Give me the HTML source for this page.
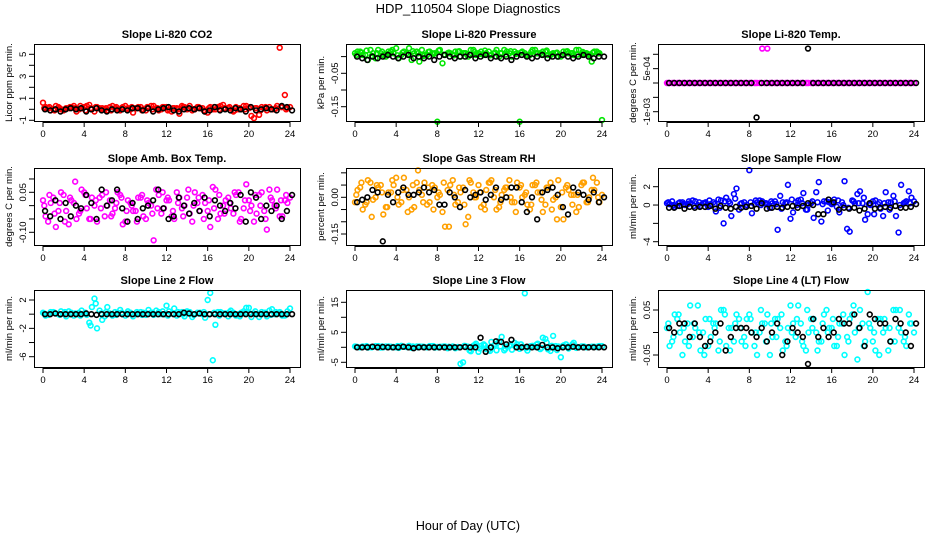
<!DOCTYPE html>
<html><head><meta charset="utf-8"><style>
html,body{margin:0;padding:0;background:#fff;}
svg{display:block;font-family:"Liberation Sans",sans-serif;}
</style></head><body>
<svg id="chart" width="936" height="540" viewBox="0 0 936 540">
<text x="468" y="13" text-anchor="middle" font-size="13">HDP_110504  Slope Diagnostics</text>
<text x="468" y="530" text-anchor="middle" font-size="12.5">Hour of Day (UTC)</text>
</svg>
<script>
// shared hour categories
const hoursA=[0,0.5,1,1.5,2,2.5,3,3.5,4,4.5,5,5.5,6,6.5,7,7.5,8,8.5,9,9.5,10,10.5,11,11.5,12,12.5,13,13.5,14,14.5,15,15.5,16,16.5,17,17.5,18,18.5,19,19.5,20,20.5,21,21.5,22,22.5,23,23.5,24];
const hoursB=[0.25,0.75,1.25,1.75,2.25,2.75,3.25,3.75,4.25,4.75,5.25,5.75,6.25,6.75,7.25,7.75,8.25,8.75,9.25,9.75,10.25,10.75,11.25,11.75,12.25,12.75,13.25,13.75,14.25,14.75,15.25,15.75,16.25,16.75,17.25,17.75,18.25,18.75,19.25,19.75,20.25,20.75,21.25,21.75,22.25,22.75,23.25,23.75];
const hoursC=[0.125,0.625,1.125,1.625,2.125,2.625,3.125,3.625,4.125,4.625,5.125,5.625,6.125,6.625,7.125,7.625,8.125,8.625,9.125,9.625,10.125,10.625,11.125,11.625,12.125,12.625,13.125,13.625,14.125,14.625,15.125,15.625,16.125,16.625,17.125,17.625,18.125,18.625,19.125,19.625,20.125,20.625,21.125,21.625,22.125,22.625,23.125,23.625];
const xTicks=[0,4,8,12,16,20,24];

// Panel 1: CO2
const co2A=[0.6,0.1,0.0,0.2,-0.1,0.1,0.3,0.0,0.2,0.4,-0.2,0.1,0.0,0.2,0.1,-0.1,0.3,0.0,0.1,0.2,-0.1,0.3,0.1,0.0,0.2,-0.2,0.1,0.3,0.0,-0.1,0.2,0.1,-0.3,0.0,0.2,0.4,0.1,-0.2,0.0,0.3,0.1,-0.8,-0.5,0.1,0.2,0.0,5.6,1.3,0.2];
const co2B=[0.2,-0.1,0.3,0.0,0.1,0.2,-0.2,0.1,0.3,0.0,0.2,0.1,-0.1,0.3,0.0,0.2,0.1,-0.3,0.2,0.0,0.1,0.3,-0.1,0.2,0.0,0.1,-0.4,0.2,0.3,0.0,0.1,-0.2,0.2,0.0,0.3,0.1,-0.1,0.2,0.0,0.3,-0.6,0.1,0.2,-0.1,0.0,0.3,0.2,0.1];
const co2C=[0.1,0.2,-0.1,0.1,0.0,0.2,0.1,0.3,-0.1,0.1,0.2,0.0,0.1,-0.1,0.2,0.1,0.0,0.2,0.1,-0.1,0.2,0.0,0.1,0.2,-0.1,0.1,0.0,0.2,0.1,0.0,0.2,-0.1,0.1,0.2,0.0,0.1,0.2,-0.1,0.1,0.0,0.2,0.1,-0.1,0.2,0.0,0.1,0.2,0.0];
const co2K=[0.0,-0.1,0.0,-0.2,0.0,0.1,0.0,0.1,-0.2,0.0,0.1,-0.1,-0.2,0.0,-0.1,0.0,-0.1,0.1,0.1,-0.1,0.1,-0.2,0.0,0.1,0.2,-0.1,-0.2,0.0,0.1,0.0,0.1,-0.2,-0.1,0.2,-0.1,0.0,-0.1,0.1,0.0,-0.2,0.2,-0.1,0.0,0.1,0.0,-0.1,0.3,0.2,-0.1];
// Panel 2: Pressure
const presA=[0.010,0.015,0.005,0.020,-0.005,0.010,0.000,0.015,0.025,0.005,0.010,-0.010,0.015,0.020,0.005,0.010,-0.195,-0.020,0.010,0.005,0.015,0.010,0.000,0.020,0.010,0.005,0.015,0.010,0.000,0.020,0.010,0.015,-0.195,0.010,0.005,0.020,0.010,0.015,0.005,0.010,0.000,0.015,0.010,0.020,0.005,0.010,-0.015,0.015,-0.190];
const presB=[0.015,0.005,-0.010,0.010,0.020,0.005,0.015,0.010,-0.005,0.015,0.025,0.010,-0.015,0.005,0.015,0.010,0.020,0.005,0.010,0.015,0.000,0.010,0.020,0.005,0.015,0.010,0.005,0.020,0.010,0.015,0.000,0.010,0.015,0.005,0.020,0.010,0.015,0.005,0.010,0.000,0.015,0.010,0.005,0.020,0.010,0.005,0.015,0.010];
const presC=[0.005,0.012,0.018,0.002,0.010,0.015,0.008,0.020,0.004,0.012,0.006,0.016,0.010,0.002,0.014,0.008,0.018,0.006,0.012,0.004,0.016,0.010,0.006,0.014,0.008,0.018,0.004,0.012,0.010,0.006,0.016,0.008,0.012,0.004,0.014,0.010,0.006,0.018,0.008,0.012,0.004,0.016,0.010,0.006,0.014,0.008,0.012,0.010];
const presK=[0.000,-0.005,-0.010,0.000,-0.005,0.000,0.005,0.000,-0.005,0.000,0.005,-0.005,0.000,-0.005,0.000,-0.010,0.000,0.005,0.000,-0.005,0.000,0.000,0.005,-0.005,0.000,0.005,-0.005,0.000,-0.005,0.000,-0.010,0.000,0.005,0.000,-0.005,0.000,0.005,-0.005,0.000,0.000,0.005,0.000,-0.005,0.000,0.005,0.000,-0.005,0.000,0.000];
// Panel 3: Temp
const tempA=[0,0,0,0,0,0,0,0,0,0,0,0,0,0,0,0,0,0,0,0,0,0,0,0,0,0,0,0,0,0,0,0,0,0,0,0,0,0,0,0,0,0,0,0,0,0,0,0,0];
const tempB=[0,0,0,0,0,0,0,0,0,0,0,0,0,0,0,0,0,0,0.0012,0.0012,0,0,0,0,0,0,0,0,0,0,0,0,0,0,0,0,0,0,0,0,0,0,0,0,0,0,0,0];
const tempC=[0,0,0,0,0,0,0,0,0,0,0,0,0,0,0,0,0,0,0,0,0,0,0,0,0,0,0,0,0,0,0,0,0,0,0,0,0,0,0,0,0,0,0,0,0,0,0,0];
const tempK=[0,0,0,0,0,0,0,0,0,0,0,0,0,0,0,0,0,-0.0012,0,0,0,0,0,0,0,0,0,0.0012,0,0,0,0,0,0,0,0,0,0,0,0,0,0,0,0,0,0,0,0,0];
// Panel 4: Amb box temp
const ambA=[0.02,-0.06,0.03,-0.02,0.04,-0.07,0.01,-0.03,0.05,-0.05,0.00,0.03,-0.04,0.02,-0.01,0.04,-0.06,0.01,-0.02,0.03,-0.05,0.00,0.06,-0.03,0.02,-0.04,0.05,-0.01,0.03,-0.06,0.01,0.04,-0.02,0.07,-0.05,0.00,0.03,-0.03,0.05,-0.01,0.02,-0.06,0.04,-0.02,0.06,0.00,-0.04,0.02,0.03];
const ambB=[-0.04,0.01,-0.08,0.05,-0.02,0.02,-0.05,0.06,-0.01,0.03,-0.06,0.04,0.00,-0.03,0.05,-0.07,0.02,-0.02,0.03,-0.04,0.01,-0.13,0.04,-0.01,0.02,-0.05,0.03,0.00,-0.03,0.05,-0.02,0.01,-0.08,0.06,-0.03,0.02,-0.01,0.04,-0.05,0.08,0.00,-0.03,0.05,-0.09,0.02,0.06,-0.04,0.01];
const ambC=[0.00,0.04,-0.03,0.01,-0.06,0.03,0.09,-0.02,0.04,-0.05,0.02,-0.01,0.05,-0.04,0.01,0.03,-0.02,0.00,-0.06,0.04,0.02,-0.03,-0.01,0.05,0.03,-0.02,0.01,-0.04,0.06,0.00,0.03,-0.05,0.02,-0.01,0.04,-0.03,0.01,0.05,-0.06,0.02,-0.02,0.04,0.00,-0.05,0.03,-0.01,0.02,0.04];
const ambK=[-0.02,-0.04,0.02,-0.05,0.01,-0.04,0.00,-0.01,0.04,0.01,-0.05,0.06,0.00,0.02,0.06,-0.01,-0.06,0.01,-0.05,-0.01,0.00,0.02,0.06,-0.01,-0.05,-0.04,0.03,0.00,-0.03,0.01,-0.02,0.03,-0.04,0.02,0.00,-0.02,0.01,-0.01,0.04,-0.06,0.05,0.03,-0.05,0.00,-0.02,0.00,-0.05,-0.02,0.04];
// Panel 5: RH
const rhA=[-0.02,0.04,-0.03,0.06,0.00,0.05,-0.04,0.02,0.08,-0.02,0.03,-0.05,0.06,0.01,-0.03,0.05,0.00,-0.06,0.03,0.07,-0.02,0.04,-0.08,0.02,0.05,-0.03,0.06,0.00,-0.04,0.03,0.07,-0.02,0.04,0.01,-0.05,0.05,0.02,-0.03,0.06,0.00,-0.04,0.04,0.01,-0.06,0.05,-0.02,0.03,0.06,0.01];
const rhB=[0.03,-0.05,0.07,-0.01,0.04,-0.07,0.02,0.05,-0.03,0.08,0.00,-0.04,0.03,0.06,-0.02,0.04,0.01,-0.12,0.05,-0.03,0.02,-0.11,0.06,0.00,-0.04,0.03,0.07,-0.05,0.01,0.04,-0.02,0.06,0.00,-0.03,0.05,0.02,-0.06,0.04,-0.01,0.07,-0.09,0.03,0.01,-0.04,0.06,0.00,0.03,-0.02];
const rhC=[0.01,0.06,-0.02,-0.08,0.05,0.02,-0.04,0.07,0.00,0.03,-0.06,0.05,0.11,-0.02,0.04,-0.05,0.02,0.06,-0.12,0.01,0.04,-0.03,0.07,0.00,0.02,-0.05,0.06,0.03,-0.02,0.04,0.00,-0.06,0.05,0.02,-0.03,0.06,-0.01,0.04,-0.05,-0.09,0.02,0.05,-0.03,0.01,0.06,-0.02,0.08,0.00];
const rhK=[-0.02,-0.01,0.00,0.03,0.02,-0.18,0.01,-0.02,0.02,0.04,0.01,0.01,0.02,0.04,0.02,0.03,-0.03,-0.03,0.02,0.00,-0.04,0.03,0.00,0.01,0.02,-0.01,0.01,0.04,-0.01,0.00,0.04,0.04,-0.02,-0.06,0.00,-0.09,0.02,0.03,0.04,0.01,-0.04,-0.07,0.04,0.02,0.01,-0.01,0.02,-0.02,0.00];
// Panel 6: Sample flow
const sfA=[0.2,0.4,-0.1,0.3,0.1,0.5,0.0,0.2,-0.2,0.3,0.6,-2.0,0.4,1.2,-0.5,0.3,3.8,0.1,0.5,0.2,-0.3,0.4,1.0,0.2,-1.5,0.3,0.6,-0.5,0.2,1.4,-1.8,0.4,0.1,-0.2,0.3,-2.6,0.5,1.2,0.2,-1.0,0.4,0.1,-1.2,0.3,1.0,-3.0,0.2,1.5,0.4];
const sfB=[0.1,-0.2,0.3,0.0,0.2,0.4,-0.1,0.3,0.1,-0.7,0.5,0.8,-1.2,1.8,0.2,0.0,-0.9,0.3,0.4,0.1,0.2,-2.7,0.3,2.2,-0.8,0.5,1.3,0.0,-1.4,2.5,0.4,0.3,0.6,-0.8,2.6,-2.9,0.2,1.5,-1.6,0.0,0.5,-0.4,1.4,0.3,-1.2,2.2,0.4,0.8];
const sfC=[0.3,0.0,0.2,0.1,0.4,-0.1,0.3,0.2,0.5,0.1,-0.3,0.4,0.2,0.7,0.1,-0.2,0.3,0.5,0.0,0.2,0.4,0.1,-0.4,0.3,0.6,0.0,0.2,-0.5,0.4,0.3,0.1,-0.6,0.2,0.5,0.0,-0.3,0.4,0.2,0.8,0.1,-1.0,0.3,0.2,-0.5,0.4,0.0,0.3,0.2];
const sfK=[-0.3,-0.3,-0.1,-0.4,-0.2,-0.3,-0.2,-0.2,-0.1,-0.4,-0.1,-0.3,-0.4,-0.2,-0.3,-0.2,-0.1,-0.4,0.2,-0.4,-0.3,-0.2,-0.3,-0.2,-0.1,-0.3,-0.1,0.2,0.0,-1.0,-1.0,0.6,0.3,-0.5,-0.3,-0.4,-0.3,-0.6,-0.4,0.2,-0.4,-0.3,-0.2,-0.3,-0.1,-0.3,-0.3,-0.2,0.1];
// Panel 7: Line 2
const l2A=[0.2,-0.1,0.3,0.0,0.1,0.4,-0.2,0.2,0.1,-1.2,2.2,0.5,-0.3,0.1,0.3,0.6,-0.2,0.2,0.0,0.3,-0.1,0.2,0.5,0.0,1.2,0.1,-0.2,0.3,0.4,-0.4,0.2,0.0,2.0,-6.5,0.3,0.1,-0.3,0.2,0.0,0.4,0.9,0.1,-0.4,0.2,0.5,0.0,0.3,-0.2,0.8];
const l2B=[-0.2,0.3,0.1,0.4,-0.3,0.2,0.0,0.5,-0.1,1.0,-2.0,-0.8,1.0,-0.2,0.2,0.1,0.4,-0.3,0.1,0.2,0.6,-0.1,0.3,0.0,0.4,0.8,0.1,-0.3,0.3,0.0,0.2,-0.5,3.0,-1.5,0.3,0.1,0.5,-0.2,0.2,0.9,-0.4,0.0,0.3,-0.3,0.7,0.1,-0.2,0.4];
const l2C=[0.1,0.0,0.2,-0.1,0.3,0.0,0.1,-0.2,0.2,-1.6,1.5,0.1,0.3,0.0,-0.1,0.2,0.1,0.0,0.3,-0.1,0.1,0.2,0.0,0.4,-0.2,0.1,0.3,0.0,0.2,-0.1,0.1,0.3,0.0,0.2,-0.2,0.1,0.3,0.0,-0.3,0.2,0.1,0.4,0.0,0.2,-0.1,0.3,0.1,0.0];
const l2K=[0.0,0.0,0.1,0.0,0.0,0.0,0.0,0.0,0.1,0.0,-0.1,0.0,0.0,0.0,0.0,0.0,0.0,0.0,0.0,0.0,0.0,0.0,0.0,0.0,0.0,0.0,0.0,0.2,0.1,0.0,0.1,0.0,0.0,0.0,0.0,0.0,0.0,0.0,0.0,0.0,0.0,0.0,0.0,0.0,0.0,0.0,0.0,0.0,0.0];
// Panel 8: Line 3
const l3A=[0.3,0.0,0.2,0.1,0.4,-0.1,0.3,0.2,0.0,0.5,0.1,-0.2,0.3,0.2,0.0,0.4,0.1,0.2,-0.3,0.3,0.1,-5.0,0.2,0.5,-1.5,1.0,-0.8,0.6,2.0,-1.0,0.5,1.5,-0.5,18.0,0.3,0.1,-0.6,2.8,-1.2,0.4,-3.3,1.0,0.2,-0.2,0.3,0.0,0.2,0.1,0.4];
const l3B=[0.1,0.3,-0.1,0.2,0.4,0.0,0.3,0.1,-0.2,0.2,0.5,0.0,0.3,0.1,0.4,-0.1,0.2,0.3,0.0,-0.3,-5.5,0.4,-1.3,1.2,0.5,-0.6,1.8,-1.0,3.5,0.3,-0.8,1.0,0.2,-1.1,0.5,1.2,3.2,-0.7,3.8,0.3,0.6,-0.4,1.5,0.0,0.3,0.1,0.2,0.4];
const l3C=[0.2,0.1,0.4,0.0,0.2,0.3,0.1,0.0,0.4,0.2,0.1,0.3,0.0,0.2,0.1,0.4,0.0,0.3,0.2,0.1,0.0,0.5,-1.0,0.8,-0.4,0.6,-1.2,1.1,0.3,-0.5,0.8,0.2,1.0,-0.3,0.4,0.9,-0.2,1.6,0.5,-0.9,0.3,0.2,1.0,0.1,0.3,0.0,0.2,0.3];
const l3K=[0.0,0.0,0.0,0.2,0.0,0.1,0.0,0.0,0.0,0.2,0.0,-0.3,0.0,0.0,0.0,0.0,0.0,0.0,0.0,0.0,0.0,0.1,0.0,0.0,3.2,-1.5,0.0,2.0,1.8,1.0,2.5,0.0,0.0,0.2,0.0,0.0,0.8,0.0,0.0,-0.3,0.0,0.0,0.2,0.0,0.0,0.0,0.0,0.0,0.0];
// Panel 9: Line 4
const l4A=[0.01,-0.02,0.03,-0.05,0.02,-0.01,0.06,0.00,-0.03,0.02,-0.04,0.05,0.01,-0.02,0.03,-0.01,0.04,-0.03,0.00,0.02,-0.05,0.03,0.01,-0.02,0.06,-0.01,0.02,-0.04,0.03,0.00,-0.02,0.05,0.01,-0.03,0.02,-0.01,0.04,-0.06,0.02,0.09,-0.02,0.03,0.00,-0.04,0.05,0.01,-0.02,0.04,0.00];
const l4B=[-0.03,0.04,0.00,-0.02,0.06,0.01,-0.04,0.03,-0.01,0.02,0.05,-0.03,0.01,0.04,-0.02,0.03,0.00,-0.05,0.02,0.04,-0.01,0.03,-0.04,0.01,0.02,0.06,-0.03,0.00,0.03,-0.02,0.04,0.01,-0.03,0.02,-0.05,0.03,0.00,0.05,-0.02,0.01,-0.04,0.03,0.01,-0.02,0.05,0.00,-0.03,0.02];
const l4C=[0.02,-0.01,0.04,0.01,-0.03,0.02,0.00,-0.05,0.03,0.01,-0.02,0.04,-0.04,0.02,0.01,-0.03,0.03,0.00,0.05,-0.02,0.02,-0.01,0.04,-0.03,0.00,0.03,-0.02,0.05,0.01,-0.04,0.02,0.00,0.03,-0.01,0.04,-0.02,0.06,0.01,-0.03,0.02,0.00,-0.05,0.03,0.01,-0.02,0.05,-0.01,0.02];
const l4K=[0.01,0.00,0.02,0.02,-0.01,0.02,-0.01,-0.03,-0.02,0.00,0.02,-0.04,-0.01,0.01,0.01,0.01,0.00,-0.01,0.01,-0.02,0.00,0.02,-0.05,-0.02,0.01,0.00,-0.01,-0.07,0.03,-0.01,0.01,-0.01,0.00,0.03,0.02,0.02,0.04,0.01,-0.03,0.04,0.03,0.02,0.02,-0.02,0.03,0.02,0.00,-0.03,0.02];

const panels=[
 {id:'co2',title:'Slope Li-820 CO2',ylab:'Licor ppm per min.',col:'#ff0000',x:34,y:44,a:[5,54.3],b:[-1,120.3],ticks:[-1,0,1,2,3,4,5],labels:['-1','','1','','3','','5'],s:[co2A,co2B,co2C],k:co2K},
 {id:'pressure',title:'Slope Li-820 Pressure',ylab:'kPa per min.',col:'#00e600',x:346,y:44,a:[-0.05,73.3],b:[-0.15,106.7],ticks:[0,-0.05,-0.1,-0.15],labels:['','-0.05','','-0.15'],s:[presA,presB,presC],k:presK},
 {id:'temp',title:'Slope Li-820 Temp.',ylab:'degrees C per min.',col:'#ff00ff',x:658,y:44,a:[0.001,54.3],b:[-0.001,111.7],ticks:[0.001,0.0005,0,-0.0005,-0.001],labels:['','5e-04','','','-1e-03'],s:[tempA,tempB,tempC],k:tempK},
 {id:'amb-box-temp',title:'Slope Amb. Box Temp.',ylab:'degrees C per min.',col:'#ff00ff',x:34,y:168,a:[0.05,192.3],b:[-0.1,232.3],ticks:[0.1,0.05,0,-0.05,-0.1],labels:['','0.05','','','-0.10'],s:[ambA,ambB,ambC],k:ambK},
 {id:'gas-rh',title:'Slope Gas Stream RH',ylab:'percent per min.',col:'#ffa000',x:346,y:168,a:[0,197.3],b:[-0.15,234],ticks:[0.1,0.05,0,-0.05,-0.1,-0.15],labels:['','','0.00','','','-0.15'],s:[rhA,rhB,rhC],k:rhK},
 {id:'sample-flow',title:'Slope Sample Flow',ylab:'ml/min per min.',col:'#0000ff',x:658,y:168,a:[2,186.7],b:[-4,241.7],ticks:[2,0,-2,-4],labels:['2','0','','-4'],s:[sfA,sfB,sfC],k:sfK},
 {id:'line2-flow',title:'Slope Line 2 Flow',ylab:'ml/min per min.',col:'#00ffff',x:34,y:290,a:[2,300],b:[-6,356.7],ticks:[2,0,-2,-4,-6],labels:['2','','-2','','-6'],s:[l2A,l2B,l2C],k:l2K},
 {id:'line3-flow',title:'Slope Line 3 Flow',ylab:'ml/min per min.',col:'#00ffff',x:346,y:290,a:[15,302.3],b:[-5,362.3],ticks:[15,10,5,0,-5],labels:['15','','5','','-5'],s:[l3A,l3B,l3C],k:l3K},
 {id:'line4-flow',title:'Slope Line 4 (LT) Flow',ylab:'ml/min per min.',col:'#00ffff',x:658,y:290,a:[0.05,310],b:[-0.05,355],ticks:[0.05,0,-0.05],labels:['0.05','','-0.05'],s:[l4A,l4B,l4C],k:l4K}
];
const NS='http://www.w3.org/2000/svg';
const svg=document.getElementById('chart');
function mk(tag,attrs,parent){const e=document.createElementNS(NS,tag);for(const k in attrs)e.setAttribute(k,attrs[k]);(parent||svg).appendChild(e);return e;}
const W=266,H=77;
panels.forEach(p=>{
  const g=mk('g',{});
  
  
  const xs=h=>p.x+9+h*(247/24);
  const ys=v=>p.a[1]+(v-p.a[0])*(p.b[1]-p.a[1])/(p.b[0]-p.a[0]);
  const t=mk('text',{x:p.x+W/2,y:p.y-6,'text-anchor':'middle','font-size':'11','font-weight':'bold'},g);
  t.textContent=p.title;
  
  
  // series
  const hs=[hoursA,hoursB,hoursC];
  p.s.forEach((arr,si)=>{
    arr.forEach((v,i)=>{
      const c=mk('circle',{cx:xs(hs[si][i]),cy:ys(v),r:2.4,fill:'none',stroke:p.col,'stroke-width':1.6},g);
      
      
    });
  });
  p.k.forEach((v,i)=>{
    const c=mk('circle',{cx:xs(hoursA[i]+0.2),cy:ys(v),r:2.4,fill:'none',stroke:'#000','stroke-width':1.6},g);
    
    
  });
  const box=mk('rect',{x:p.x+0.5,y:p.y+0.5,width:W,height:H,fill:'none',stroke:'#000','stroke-width':1},g);
  
  
  // x axis
  const by=p.y+H+1;
  mk('line',{x1:xs(0),x2:xs(24),y1:by+0.5,y2:by+0.5,stroke:'#000'},g);
  xTicks.forEach(h=>{
    mk('line',{x1:xs(h),x2:xs(h),y1:by,y2:by+5,stroke:'#000'},g);
    const tl=mk('text',{x:xs(h),y:by+15,'text-anchor':'middle','font-size':'9.5'},g);
    tl.textContent=h;
    
    
  });
  // y axis
  const ax=p.x;
  const yv=p.ticks.map(ys);
  mk('line',{x1:ax+0.5,x2:ax+0.5,y1:Math.min(...yv),y2:Math.max(...yv),stroke:'#000'},g);
  p.ticks.forEach((v,i)=>{
    const py=ys(v);
    mk('line',{x1:ax-5,x2:ax,y1:py,y2:py,stroke:'#000'},g);
    if(p.labels[i]){
      const tl=mk('text',{x:ax-8,y:py,'text-anchor':'middle','font-size':'9.5',transform:`rotate(-90 ${ax-8} ${py})`},g);
      tl.textContent=p.labels[i];
      
      
    }
  });
  const yl=mk('text',{x:p.x-22,y:p.y+H/2,'text-anchor':'middle','font-size':'9.5',transform:`rotate(-90 ${p.x-22} ${p.y+H/2})`},g);
  yl.textContent=p.ylab;
  
  
});
</script>
</body></html>
